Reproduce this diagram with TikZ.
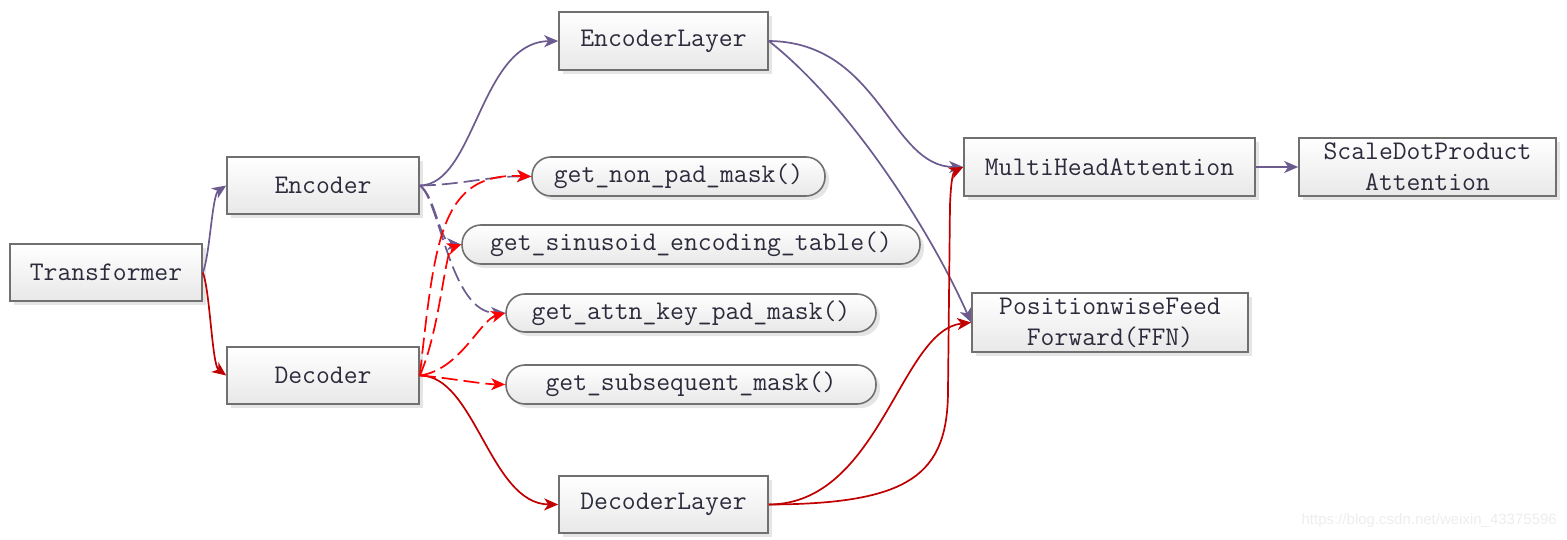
\documentclass[tikz,border=0pt]{standalone}
\usepackage{fontspec}
\setsansfont{Liberation Sans}
\usetikzlibrary{arrows.meta,shadows}
\definecolor{pur}{HTML}{6B5B8F}
\definecolor{dred}{HTML}{C00000}
\definecolor{bred}{HTML}{FF0000}
\definecolor{bord}{HTML}{707070}
\definecolor{txt}{HTML}{2B2B3C}
\begin{document}
\begin{tikzpicture}[x=1pt,y=-1pt,
  box/.style={draw=bord, line width=1.6pt, top color=white, bottom color=black!9,
    general shadow={fill=black!10, shadow xshift=4pt, shadow yshift=-4pt},
    inner sep=0pt, text=txt, font=\fontsize{26.9}{31}\selectfont\ttfamily, align=center},
  pill/.style={box, rounded corners=19pt},
  conn/.style={line width=1.7pt, -{Stealth[length=14pt,width=12pt,inset=4pt]}},
  pcon/.style={conn, draw=pur},
  rcon/.style={conn, draw=dred},
  pdash/.style={conn, draw=pur, dash pattern=on 16pt off 6pt},
  rdash/.style={conn, draw=bred, dash pattern=on 16pt off 6pt},
  wmark/.style={font=\fontsize{15}{18}\selectfont\sffamily, text=black!7, inner sep=0pt}
]
\useasboundingbox (0,0) rectangle (1567,540);

\node[box, minimum width=192pt, minimum height=57pt] (tr) at (106,272.5) {Transformer};
\node[box, minimum width=192pt, minimum height=57pt] (enc) at (323,185.5) {Encoder};
\node[box, minimum width=192pt, minimum height=57pt] (dec) at (323,375.5) {Decoder};
\node[box, minimum width=209pt, minimum height=58pt] (encl) at (663.5,41) {EncoderLayer};
\node[box, minimum width=209pt, minimum height=57pt] (decl) at (663.5,504.5) {DecoderLayer};
\node[pill, minimum width=293pt, minimum height=39pt] (np) at (678.5,176.5) {get\_non\_pad\_mask()};
\node[pill, minimum width=458pt, minimum height=39pt] (sin) at (691,244.5) {get\_sinusoid\_encoding\_table()};
\node[pill, minimum width=370pt, minimum height=38pt] (akp) at (691,313) {get\_attn\_key\_pad\_mask()};
\node[pill, minimum width=370pt, minimum height=39pt] (sub) at (691,384.5) {get\_subsequent\_mask()};
\node[box, minimum width=291pt, minimum height=58pt] (mha) at (1109.5,167) {MultiHeadAttention};
\node[box, minimum width=257pt, minimum height=58pt] (sdpa) at (1427.5,167) {ScaleDotProduct\\Attention};
\node[box, minimum width=276pt, minimum height=59pt] (pff) at (1110,322.5) {PositionwiseFeed\\Forward(FFN)};

\node[wmark, anchor=east] (wm) at (1557,521) {https://blog.csdn.net/weixin\_43375596};

% solid connectors
\draw[pcon] (tr.east) .. controls (210,255) and (212,195) .. (enc.west);
\draw[rcon] (tr.east) .. controls (210,290) and (212,365) .. (dec.west);
\draw[pcon] (enc.east) .. controls (475,185) and (480,42) .. (encl.west);
\draw[rcon] (dec.east) .. controls (475,375) and (490,504) .. (decl.west);
\draw[pcon] (encl.east) .. controls (880,42) and (890,167) .. (mha.west);
\draw[pcon] (encl.east) .. controls (850,105) and (930,230) .. (pff.west);
\draw[pcon] (mha.east) -- (sdpa.west);
\draw[rcon] (decl.east) .. controls (910,504) and (948,475) .. (948,390)
  -- (950,205) .. controls (951,180) and (953,172) .. (mha.west);
\draw[rcon] (decl.east) .. controls (880,504) and (900,330) .. (pff.west);

% dashed connectors
\draw[pdash] (enc.east) .. controls (460,185) and (490,176) .. (np.west);
\draw[pdash] (enc.east) .. controls (435,195) and (440,244) .. (sin.west);
\draw[pdash] (enc.east) .. controls (440,200) and (450,313) .. (akp.west);
\draw[rdash] (dec.east) .. controls (435,240) and (440,172) .. (np.west);
\draw[rdash] (dec.east) .. controls (440,330) and (445,250) .. (sin.west);
\draw[rdash] (dec.east) .. controls (460,370) and (480,320) .. (akp.west);
\draw[rdash] (dec.east) .. controls (450,378) and (480,384) .. (sub.west);
\end{tikzpicture}
\end{document}
